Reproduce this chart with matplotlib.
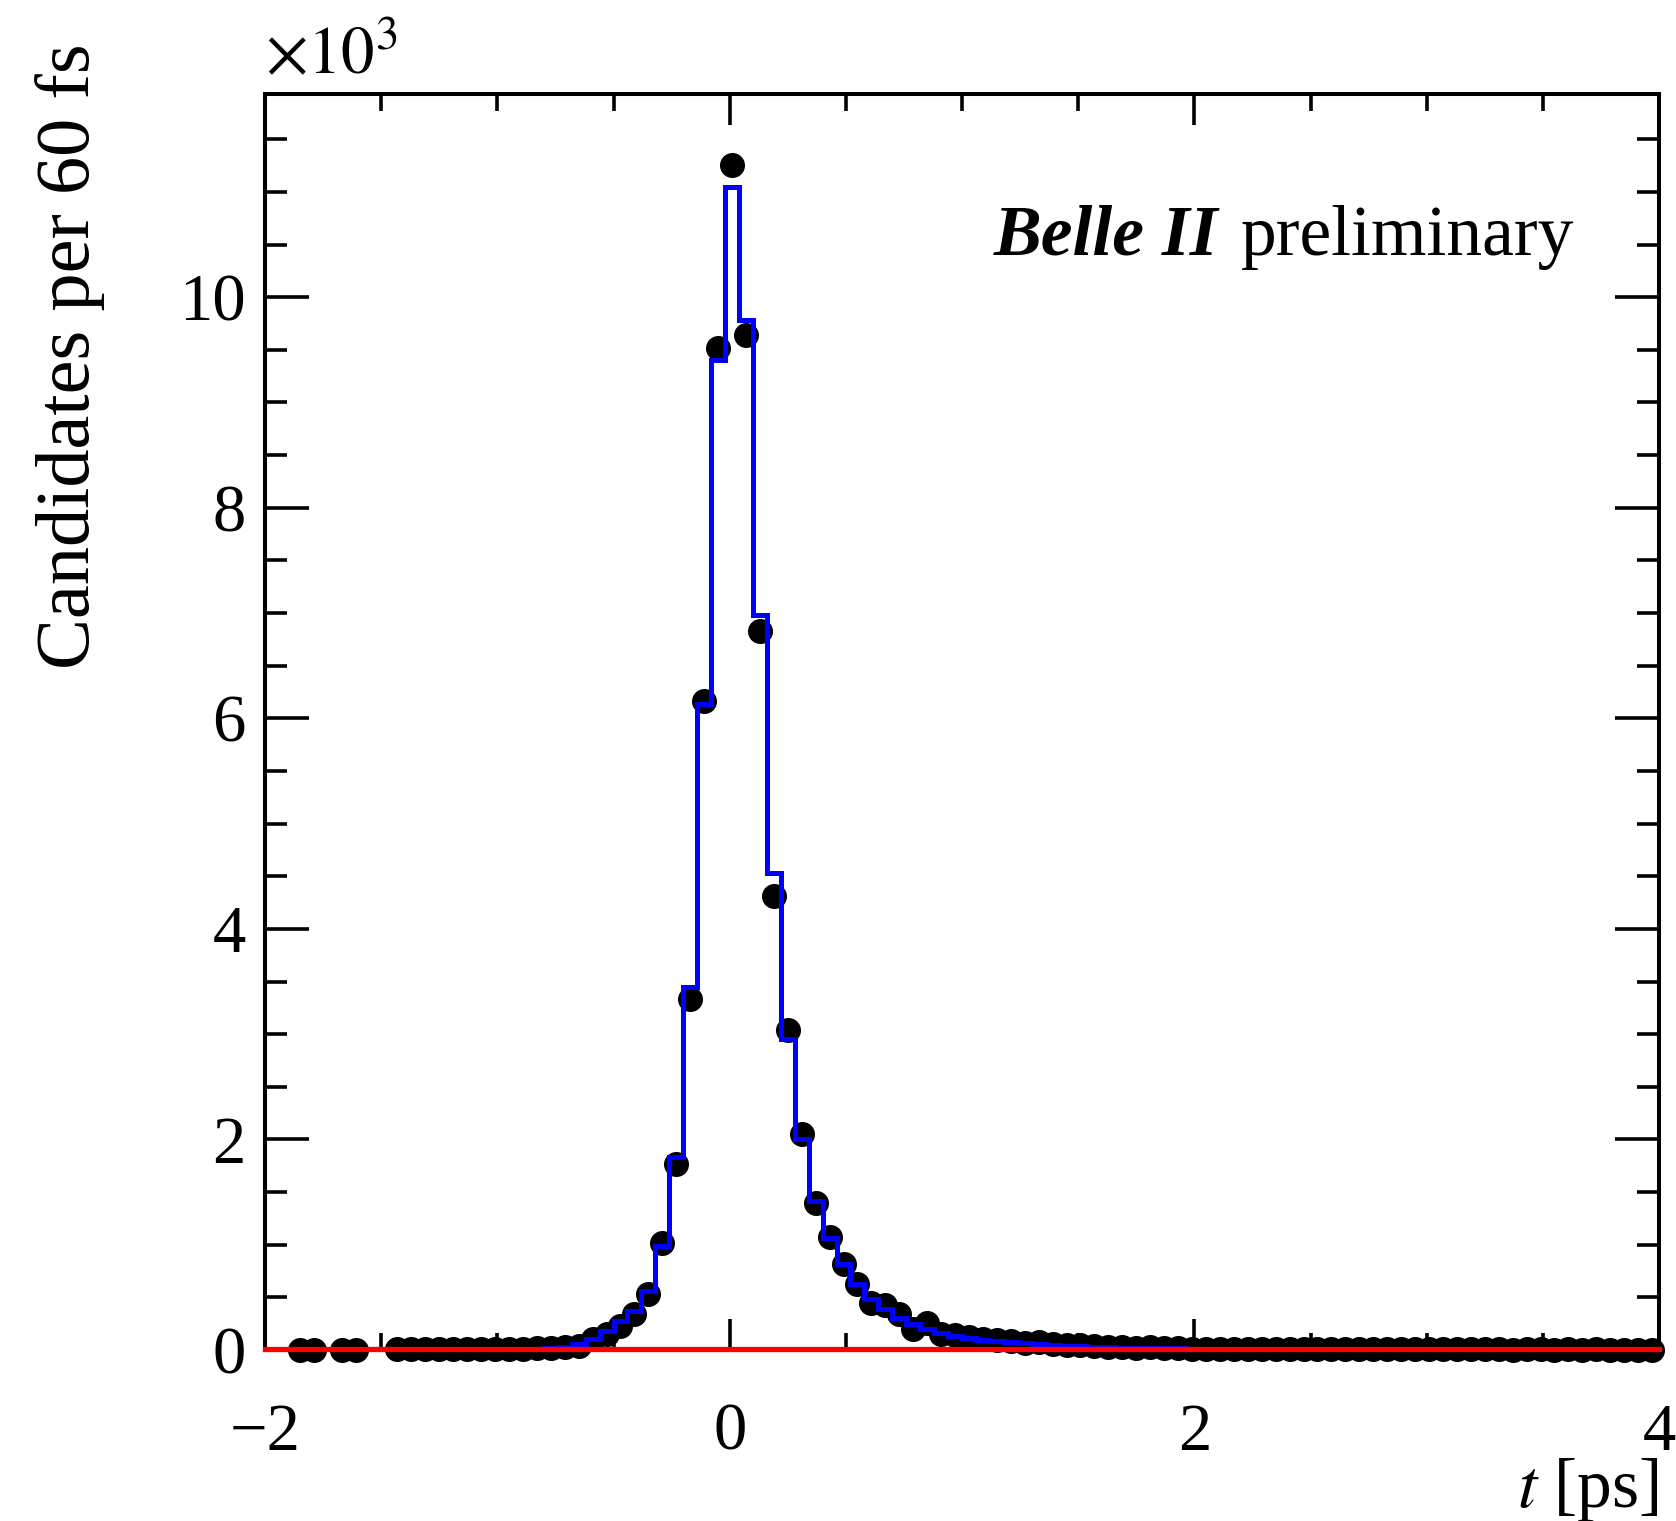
import numpy as np
import matplotlib
matplotlib.use("Agg")
import matplotlib.pyplot as plt
from matplotlib.ticker import MultipleLocator, FuncFormatter

plt.rcParams["font.family"] = ["Liberation Serif", "DejaVu Serif"]
plt.rcParams["mathtext.fontset"] = "stix"

# 100 bins of 60 fs between -2 and 4 ps
bin_edges = np.linspace(-2.0, 4.0, 101)
bin_centers = 0.5 * (bin_edges[:-1] + bin_edges[1:])

nan = np.nan
# data counts per bin (empty bins not drawn)
data_counts = [
    nan, nan, 4, 4, nan, 4, 4, nan, nan, 5,
    5, 6, 6, 7, 8, 9, 10, 12, 14, 18,
    22, 30, 42, 100, 150, 228, 340, 530, 1020, 1770,
    3330, 6160, 9520, 11260, 9640, 6830, 4310, 3040, 2050, 1400,
    1070, 820, 630, 450, 428, 340, 200, 255, 150, 145,
    120, 108, 95, 82, 70, 74, 56, 50, 44, 36,
    32, 28, 22, 24, 16, 18, 13, 12, 10, 9,
    11, 8, 9, 10, 7, 8, 9, 6, 8, 7,
    6, 8, 5, 7, 6, 5, 7, 6, 5, 4,
    6, 5, 4, 5, 4, 5, 3, 4, 4, 3,
]

# fit model per bin
fit_counts = [
    0.5, 0.6, 0.7, 0.8, 0.9, 1.0, 1.2, 1.4, 1.6, 2.0,
    2.4, 3.0, 3.5, 4.0, 5.0, 6.0, 7.5, 9.0, 11, 14,
    18, 30, 57, 105, 180, 275, 370, 560, 990, 1830,
    3450, 6140, 9400, 11050, 9780, 6980, 4530, 2950, 2000, 1416,
    1068, 815, 625, 482, 387, 307, 244, 197, 160, 135,
    115, 98, 84, 72, 62, 53, 46, 40, 35, 30,
    26, 23, 20, 18, 16, 14.5, 13, 12, 11.5, 11,
    10.5, 10, 9.6, 9.2, 8.8, 8.5, 8.2, 7.9, 7.6, 7.3,
    7.0, 6.8, 6.6, 6.4, 6.2, 6.0, 5.8, 5.6, 5.4, 5.2,
    5.0, 4.9, 4.8, 4.7, 4.6, 4.5, 4.4, 4.3, 4.2, 4.1,
]

bkg_level = 10

fig = plt.figure(figsize=(16.76, 15.21), dpi=100)
ax = fig.add_axes([265 / 1676, 1 - 1350 / 1521, 1394 / 1676, 1256 / 1521])

ax.plot(bin_centers, data_counts, "o", color="black", markersize=17, zorder=2,
        clip_on=False)
ax.stairs(fit_counts, bin_edges, color="#0000ff", linewidth=3.6, zorder=3)
ax.axhline(bkg_level, color="#ff0000", linewidth=3.8, zorder=4, clip_on=False)

ax.set_xlim(-2, 4)
ax.set_ylim(0, 11930)

ax.xaxis.set_major_locator(MultipleLocator(2))
ax.xaxis.set_minor_locator(MultipleLocator(0.5))
ax.yaxis.set_major_locator(MultipleLocator(2000))
ax.yaxis.set_minor_locator(MultipleLocator(500))
ax.yaxis.set_major_formatter(FuncFormatter(lambda v, p: "%g" % (v / 1000)))
ax.xaxis.set_major_formatter(FuncFormatter(lambda v, p: ("\u2212%g" % -v) if v < 0 else "%g" % v))

ax.tick_params(which="both", direction="in", top=True, right=True, width=2.6, labelsize=48)
ax.tick_params(axis="x", which="major", length=22, pad=38)
ax.tick_params(axis="x", which="minor", length=12)
ax.tick_params(axis="y", which="major", length=32, pad=14)
ax.tick_params(axis="y", which="minor", length=16)
for s in ax.spines.values():
    s.set_linewidth(2.9)

ax.text(0.0, 1.005, r"$\times10^{3}$", transform=ax.transAxes, fontsize=48,
        ha="left", va="bottom")

ax.text(1.0, -0.125, r"$t$ [ps]", transform=ax.transAxes, fontsize=50,
        ha="right", va="baseline")
fig.text(70 / 1676, 1 - 43 / 1521, "Candidates per 60 fs", rotation=90,
         fontsize=55, ha="center", va="top")

prelim = ax.text(0.939, 0.872, "preliminary", transform=ax.transAxes,
                 fontsize=51.5, ha="right", va="baseline")
ax.annotate("Belle II", xy=(0, 0.872), xycoords=(prelim, "axes fraction"),
            xytext=(-16, 0), textcoords="offset points", fontsize=51.5,
            fontweight="bold", fontstyle="italic", ha="right", va="baseline")

fig.savefig("out.png", dpi=100)
